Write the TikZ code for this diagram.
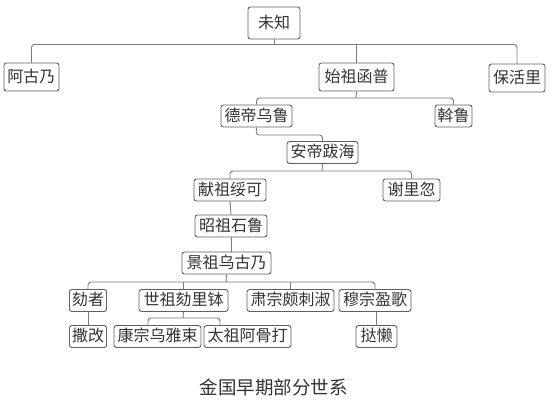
\documentclass[tikz,border=0pt]{standalone}
\usepackage{fontspec}
\newfontfamily\cjk{Noto Sans CJK SC}
\definecolor{boxline}{HTML}{606060}
\definecolor{connline}{HTML}{7A7A7A}
\definecolor{txt}{HTML}{333333}
\begin{document}
\begin{tikzpicture}[x=1pt,y=-1pt,
  person/.style={draw=boxline,line width=0.9pt,rounded corners=2.5pt,fill=white,
    text=txt,font=\cjk\fontsize{16}{19}\selectfont,inner xsep=0pt,inner ysep=0pt,
    minimum height=22pt,text height=12pt,text depth=2pt,anchor=center},
  tall/.style={minimum height=28pt},
  conn/.style={draw=connline,line width=0.9pt,rounded corners=3pt}]
\useasboundingbox (0,0) rectangle (552,402);
% nodes
\node[person,minimum height=32pt,minimum width=52pt] (wz) at (274,23) {未知};
\node[person,tall,minimum width=55pt] (agn) at (31.5,77) {阿古乃};
\node[person,tall,minimum width=75pt] (szhp) at (356.5,77) {始祖函普};
\node[person,tall,minimum width=56pt] (bhl) at (517,78) {保活里};
\node[person,minimum width=71pt] (ddwl) at (256.5,116) {德帝乌鲁};
\node[person,minimum width=37pt] (wl) at (453.5,116) {斡鲁};
\node[person,minimum width=71pt] (adbh) at (322.5,152.5) {安帝跋海};
\node[person,minimum width=72pt] (xzsk) at (230,190) {献祖绥可};
\node[person,minimum width=57pt] (xlh) at (411.5,190) {谢里忽};
\node[person,minimum width=72pt] (zzsl) at (231,226) {昭祖石鲁};
\node[person,minimum width=89pt] (jzwgn) at (226.5,263) {景祖乌古乃};
\node[person,minimum width=37pt] (hz) at (88,300.5) {劾者};
\node[person,minimum width=89pt] (szhlb) at (183.5,300.5) {世祖劾里钵};
\node[person,minimum width=87pt] (szpls) at (290.5,300.5) {肃宗颇刺淑};
\node[person,minimum width=72pt] (mzyg) at (375,300.5) {穆宗盈歌};
\node[person,minimum width=37pt] (sg) at (88,336.5) {撒改};
\node[person,minimum width=87pt] (kzwys) at (157.5,336.5) {康宗乌雅束};
\node[person,minimum width=87pt] (tzagd) at (247.5,336.5) {太祖阿骨打};
\node[person,minimum width=41pt] (tl) at (376.5,336.5) {挞懒};
\node[text=txt,font=\cjk\fontsize{18.5}{22}\selectfont,inner sep=0pt] (title) at (273.5,387) {金国早期部分世系};
% bus coordinates
\coordinate (b1) at (274,44.5);
\coordinate (b2) at (356,98);
\coordinate (b3) at (256,135);
\coordinate (b4) at (322,171);
\coordinate (b5) at (226,282);
\coordinate (b6) at (183,318);
\coordinate (kzd) at (148,318);
\coordinate (tzd) at (220,318);
% connectors
\draw[conn] (wz.south) -- (b1);
\draw[conn] (agn.north) |- (b1) -| (bhl.north);
\draw[conn] (szhp.north) -- (szhp.north |- b1);
\draw[conn] (szhp.south) -- (b2);
\draw[conn] (ddwl.north) |- (b2) -| (wl.north);
\draw[conn] (ddwl.south) -- (b3) -| (adbh.north);
\draw[conn] (adbh.south) -- (b4);
\draw[conn] (xzsk.north) |- (b4) -| (xlh.north);
\draw[conn] (xzsk.south) -- (zzsl.north);
\draw[conn] (zzsl.south) -- (zzsl.south |- jzwgn.north);
\draw[conn] (jzwgn.south) -- (b5);
\draw[conn] (hz.north) |- (b5) -| (mzyg.north);
\draw[conn] (szhlb.north) -- (szhlb.north |- b5);
\draw[conn] (szpls.north) -- (szpls.north |- b5);
\draw[conn] (hz.south) -- (sg.north);
\draw[conn] (szhlb.south) -- (b6);
\draw[conn] (kzwys.north -| kzd) |- (b6) -| (tzagd.north -| tzd);
\draw[conn] (mzyg.south -| tl.north) -- (tl.north);
\end{tikzpicture}
\end{document}
